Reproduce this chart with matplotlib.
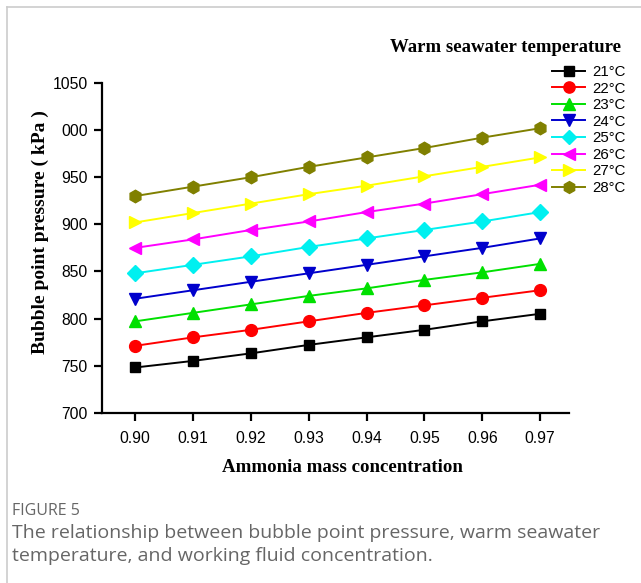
import matplotlib
matplotlib.use("Agg")
import matplotlib.pyplot as plt
from matplotlib.lines import Line2D

# ammonia mass fraction on x, bubble point pressure (kPa) on y
conc = [0.90, 0.91, 0.92, 0.93, 0.94, 0.95, 0.96, 0.97]
temps = ["21°C", "22°C", "23°C", "24°C", "25°C", "26°C", "27°C", "28°C"]
p21 = [748, 755, 763, 772, 780, 788, 797, 805]
p22 = [771, 780, 788, 797, 806, 814, 822, 830]
p23 = [797, 806, 815, 824, 832, 841, 849, 858]
p24 = [821, 830, 839, 848, 857, 866, 875, 885]
p25 = [848, 857, 866, 876, 885, 894, 903, 913]
p26 = [875, 884, 894, 903, 913, 922, 932, 942]
p27 = [902, 912, 922, 932, 941, 951, 961, 971]
p28 = [930, 940, 950, 961, 971, 981, 992, 1002]
yticks = [700, 750, 800, 850, 900, 950, 1000, 1050]
ytick_labels = ["700", "750", "800", "850", "900", "950", "000", "1050"]

series = [p21, p22, p23, p24, p25, p26, p27, p28]
colors = ["black", "#ff0000", "#00e000", "#0000cc", "#00f0f0", "#ff00ff", "#ffff00", "#808000"]
markers = ["s", "o", "^", "v", "D", "<", ">", "h"]
msizes = [7, 8.5, 8.5, 8.5, 8, 8.5, 8.5, 9]

fig = plt.figure(figsize=(6.41, 5.83), dpi=100)
ax = fig.add_axes([0.1587, 0.2921, 0.729, 0.5655])

handles = []
for vals, c, m, ms, lab in zip(series, colors, markers, msizes, temps):
    ax.plot(conc, vals, color=c, lw=1.4, marker=m, ms=ms, mec=c, mfc=c)
    handles.append(Line2D([], [], color=c, lw=1.4, marker=m, ms=ms * 0.95, mec=c, mfc=c, label=lab))

ax.set_xlim(0.8942, 0.975)
ax.set_ylim(700, 1050)
ax.set_xticks(conc)
ax.set_xticklabels([f"{v:.2f}" for v in conc])
ax.set_yticks(yticks)
ax.set_yticklabels(ytick_labels)
ax.spines["top"].set_visible(False)
ax.spines["right"].set_visible(False)
for s in ["left", "bottom"]:
    ax.spines[s].set_linewidth(1.6)
ax.tick_params(axis="both", direction="out", length=6, width=1.6, labelsize=11.3)
ax.tick_params(axis="y", pad=4)
ax.tick_params(axis="x", pad=7)
for t in ax.get_xticklabels() + ax.get_yticklabels():
    t.set_family("Liberation Sans")

serif = dict(family="Liberation Serif", weight="bold")
fig.text(342 / 641, 1 - 467 / 583, "Ammonia mass concentration", ha="center", va="center",
         fontsize=13.6, **serif)
fig.text(40 / 641, 1 - 232 / 583, "Bubble point pressure ( kPa )", ha="center", va="center",
         rotation=90, fontsize=14, **serif)
fig.text(505 / 641, 1 - 48 / 583, "Warm seawater temperature", ha="center", va="center",
         fontsize=13.5, **serif)

fig.legend(handles=handles, loc="upper left", bbox_to_anchor=(552 / 641, 1 - 65 / 583),
           frameon=False, handlelength=2.2, handletextpad=0.5,
           labelspacing=0.17, borderpad=0, borderaxespad=0,
           prop={"family": "Liberation Sans", "size": 10.8})

# page frame and caption
fig.add_artist(Line2D([7 / 641, 1], [1 - 7 / 583, 1 - 7 / 583], color="#cccccc", lw=1.2,
                      transform=fig.transFigure))
fig.add_artist(Line2D([7 / 641, 7 / 641], [0, 1 - 7 / 583], color="#cccccc", lw=1.2,
                      transform=fig.transFigure))
fig.text(12 / 641, 1 - 511 / 583, "FIGURE 5", ha="left", va="center", fontsize=11.5,
         family="Open Sans", color="#666666")
fig.text(12 / 641, 1 - 533 / 583, "The relationship between bubble point pressure, warm seawater",
         ha="left", va="center", fontsize=14, family="Open Sans", color="#666666")
fig.text(12 / 641, 1 - 556 / 583, "temperature, and working fluid concentration.",
         ha="left", va="center", fontsize=14, family="Open Sans", color="#666666")

fig.savefig("out.png", dpi=100)
